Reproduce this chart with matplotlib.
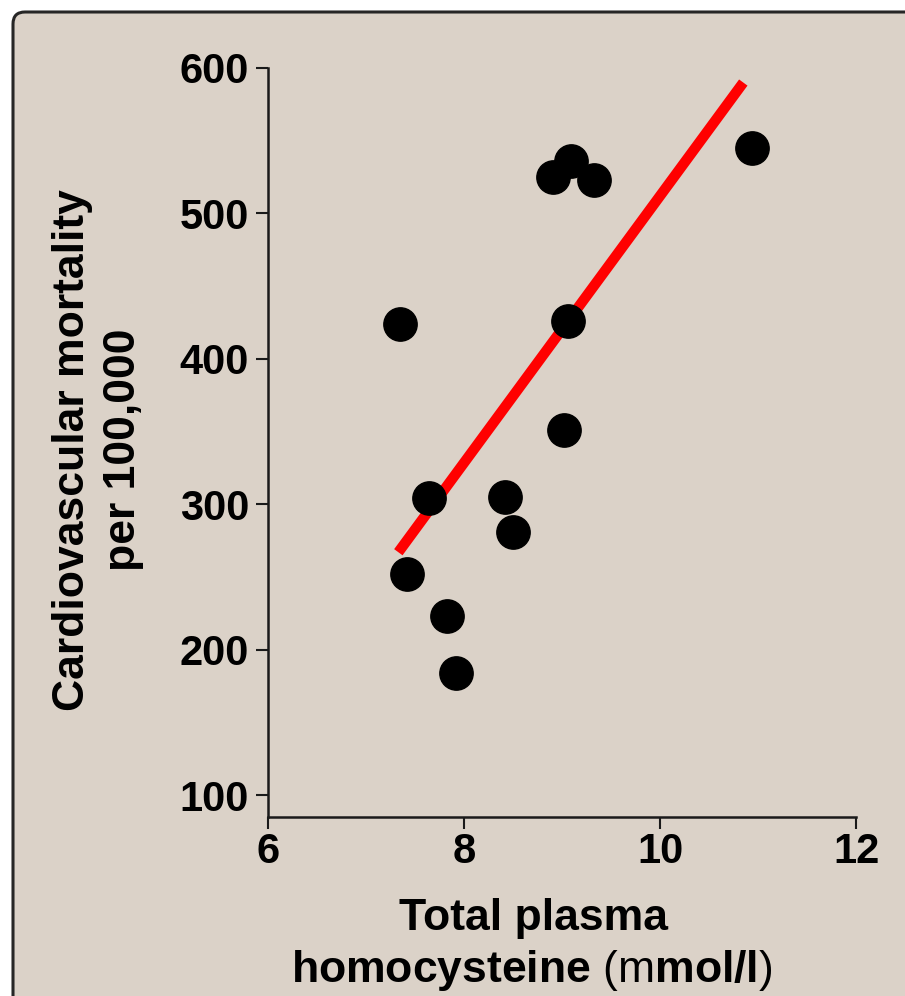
import matplotlib
matplotlib.use("Agg")
import matplotlib.pyplot as plt
from matplotlib.patches import FancyBboxPatch
from matplotlib.transforms import IdentityTransform

plt.rcParams['font.family'] = ['Liberation Sans', 'DejaVu Sans']
plt.rcParams['mathtext.fontset'] = 'custom'
plt.rcParams['mathtext.rm'] = 'Liberation Sans'
plt.rcParams['mathtext.bf'] = 'Liberation Sans:bold'

# data
homocysteine = [7.35, 9.06, 9.02, 7.64, 8.42, 8.50, 7.42, 7.83, 7.92, 8.91, 9.09, 9.33, 10.94]
mortality = [424, 426, 351, 304, 305, 281, 252, 223, 184, 525, 536, 523, 545]
fit_x = [7.33, 10.85]
fit_y = [267, 590]
x_ticks = [6, 8, 10, 12]
y_ticks = [100, 200, 300, 400, 500, 600]

W, H = 905, 996
fig = plt.figure(figsize=(W / 100, H / 100), dpi=100, facecolor='white')

bg = '#dbd2c8'
frame = FancyBboxPatch((13, -40), 960, H - 12 + 40, boxstyle='round,pad=0,rounding_size=12',
                       transform=IdentityTransform(), facecolor=bg, edgecolor='#262626',
                       linewidth=2.2, zorder=-10)
fig.patches.append(frame)

ax = fig.add_axes([268 / W, 1 - 817 / H, (856 - 268) / W, (817 - 68) / H])
ax.set_facecolor('none')
ax.set_xlim(6, 12)
ax.set_ylim(84.9, 600)

ax.plot(fit_x, fit_y, color='#ff0000', lw=7.5, solid_capstyle='butt', zorder=2)
ax.plot(homocysteine, mortality, 'o', color='black', ms=24, mec='black', zorder=3, clip_on=False)

for s in ['top', 'right']:
    ax.spines[s].set_visible(False)
for s in ['left', 'bottom']:
    ax.spines[s].set_linewidth(1.8)
    ax.spines[s].set_color('#1a1a1a')

ax.set_xticks(x_ticks)
ax.set_yticks(y_ticks)
ax.set_xticklabels([str(v) for v in x_ticks])
ax.set_yticklabels([str(v) for v in y_ticks])
ax.tick_params(axis='both', direction='out', length=8.5, width=1.5, color='#1a1a1a',
               labelsize=30)
ax.tick_params(axis='x', pad=2)
ax.tick_params(axis='y', pad=5)
for lab in ax.get_xticklabels() + ax.get_yticklabels():
    lab.set_fontweight('bold')

fig.text(98 / W, 1 - 450 / H, 'Cardiovascular mortality\nper 100,000', rotation=90,
         ha='center', va='center', fontsize=32, fontweight='bold', linespacing=1.3,
         multialignment='center')

fig.text(533 / W, 1 - 930 / H, 'Total plasma', ha='center', va='baseline',
         fontsize=32, fontweight='bold')
fig.text(532 / W, 1 - 982 / H, r'homocysteine $\mathrm{(m}$mol/l$\mathrm{)}$', ha='center',
         va='baseline', fontsize=32, fontweight='bold')

fig.savefig('out.png', dpi=100, facecolor='white')
